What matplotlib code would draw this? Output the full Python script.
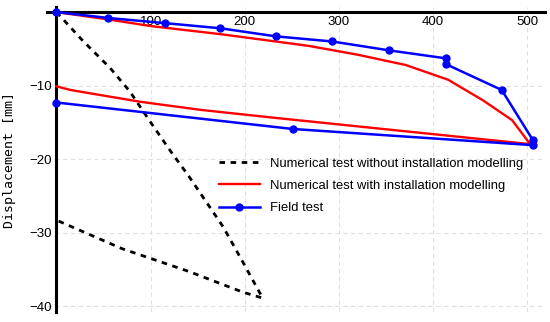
import matplotlib.pyplot as plt

plt.rcParams['font.family'] = ['Liberation Sans', 'DejaVu Sans']

# numerical test without installation modelling (load, unload)
nw_x = [0, 28, 57, 78, 99, 120, 141, 177, 198, 219, 198, 141, 70, 0]
nw_y = [0, -3.9, -7.6, -10.8, -14.8, -18.7, -22.4, -29.2, -34.0, -38.9, -38.1, -35.3, -32.2, -28.3]

# numerical test with installation modelling
ni_x = [0, 55, 100, 174, 233, 268, 320, 371, 416, 453, 484, 501, 506, 233, 153, 89, 15, 0]
ni_y = [0, -1.0, -1.9, -3.0, -4.0, -4.6, -5.8, -7.2, -9.2, -12.0, -14.7, -17.6, -18.0,
        -14.4, -13.3, -12.2, -10.6, -10.1]

# field test
ft_x = [0, 55, 115, 174, 233, 293, 353, 414, 414, 473, 506, 506, 251, 0]
ft_y = [0, -0.8, -1.5, -2.2, -3.3, -4.0, -5.2, -6.3, -7.1, -10.6, -17.4, -18.1, -15.9, -12.3]

xticks = [100, 200, 300, 400, 500]
yticks = [-10, -20, -30, -40]

fig = plt.figure(figsize=(5.5, 3.22), dpi=100)
ax = fig.add_axes([0.0855, 0.031, 0.9055, 0.947])

ax.plot(nw_x, nw_y, color='black', lw=2.0, ls=(0, (2, 2)),
        label='Numerical test without installation modelling', zorder=3)
ax.plot(ni_x, ni_y, color='red', lw=1.7,
        label='Numerical test with installation modelling', zorder=4)
ax.plot(ft_x, ft_y, color='blue', lw=1.8, marker='o', ms=5,
        label='Field test', zorder=5)

ax.set_xlim(-10, 519)
ax.set_ylim(-40.8, 0.68)
ax.set_xticks(xticks)
ax.set_yticks(yticks)
ax.set_yticklabels(['\u221210', '\u221220', '\u221230', '\u221240'])
ax.tick_params(length=0, labelsize=9.5, pad=3)
ax.grid(True, color='#e0e0e0', ls=(0, (4, 3)), lw=0.8)

ax.spines['bottom'].set_position(('data', 0))
ax.spines['left'].set_position(('data', 0))
ax.spines['bottom'].set_linewidth(2.2)
ax.spines['left'].set_linewidth(2.2)
ax.spines['top'].set_visible(False)
ax.spines['right'].set_visible(False)
ax.set_axisbelow(True)

ax.set_ylabel('Displacement [mm]', family='DejaVu Sans Mono', fontsize=9.5)
ax.yaxis.set_label_coords(-0.062, 0.5)

ax.legend(loc='upper left', bbox_to_anchor=(0.322, 0.545), frameon=False,
          fontsize=9.4, handlelength=3.1, handletextpad=0.8, labelspacing=0.78)

fig.savefig('out.png', dpi=100)
